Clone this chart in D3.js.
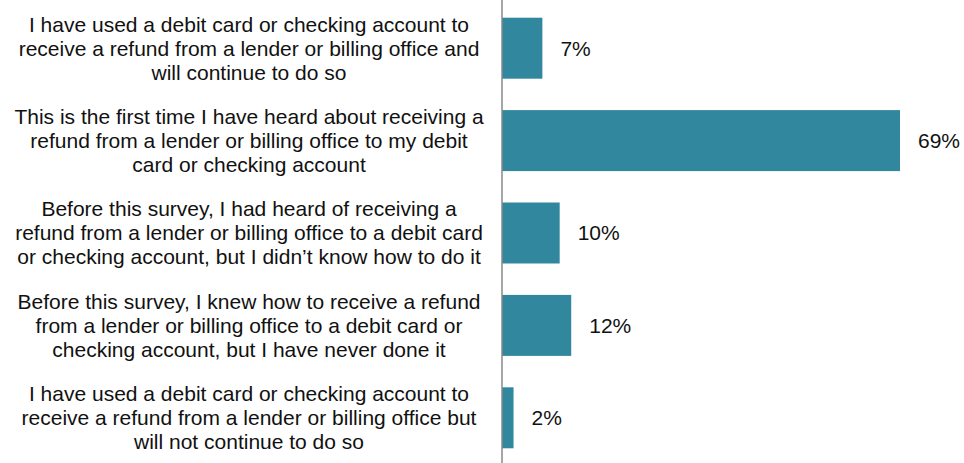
<!DOCTYPE html>
<html>
<head>
<meta charset="utf-8">
<script src="https://cdn.jsdelivr.net/npm/d3@7"></script>
<style>
  html, body { margin: 0; padding: 0; background: #fff; }
  svg { display: block; }
  text { font-family: "Liberation Sans", Arial, sans-serif; fill: #111; }
</style>
</head>
<body>
<svg id="chart" width="964" height="463"></svg>
<script>
// Survey response categories (each split into display lines)
const categories = [
  ["I have used a debit card or checking account to",
   "receive a refund from a lender or billing office and",
   "will continue to do so"],
  ["This is the first time I have heard about receiving a",
   "refund from a lender or billing office to my debit",
   "card or checking account"],
  ["Before this survey, I had heard of receiving a",
   "refund from a lender or billing  office to a debit card",
   "or checking account, but I didn\u2019t know  how to do it"],
  ["Before this survey, I knew how to receive a refund",
   "from a lender or billing office to a debit card or",
   "checking account, but I have never done it"],
  ["I have used a debit card or checking account to",
   "receive a refund from a lender or billing office but",
   "will not continue to do so"]
];
const values = [7, 69, 10, 12, 2];

const width = 964, height = 463;
const axisX = 502;
const svg = d3.select("#chart");

const x = d3.scaleLinear().domain([0, 69]).range([axisX, 900]);
const y = d3.scaleBand()
  .domain(d3.range(categories.length))
  .range([2, 464])
  .paddingInner(0.34)
  .paddingOuter(0.17);

// bars
svg.selectAll("rect.bar")
  .data(values)
  .join("rect")
  .attr("class", "bar")
  .attr("x", x(0))
  .attr("y", (d, i) => y(i))
  .attr("width", d => x(d) - x(0))
  .attr("height", y.bandwidth())
  .attr("fill", "#31879e");

// category axis line
svg.append("line")
  .attr("x1", axisX).attr("x2", axisX)
  .attr("y1", 0).attr("y2", height)
  .attr("stroke", "#888")
  .attr("stroke-width", 1.5);

// category labels, centred in the left column
const lineH = 24;
const labels = svg.selectAll("text.cat")
  .data(categories)
  .join("text")
  .attr("class", "cat")
  .attr("text-anchor", "middle")
  .style("font-size", "21px");
labels.each(function (lines, i) {
  const cy = y(i) + y.bandwidth() / 2;
  const t = d3.select(this);
  lines.forEach((ln, k) => {
    t.append("tspan")
      .attr("x", 249)
      .attr("y", cy + (k - (lines.length - 1) / 2) * lineH)
      .attr("dy", "0.35em")
      .text(ln);
  });
});

// value labels
svg.selectAll("text.val")
  .data(values)
  .join("text")
  .attr("class", "val")
  .attr("x", d => x(d) + 18)
  .attr("y", (d, i) => y(i) + y.bandwidth() / 2)
  .attr("dy", "0.35em")
  .style("font-size", "21px")
  .text(d => d + "%");
</script>
</body>
</html>
